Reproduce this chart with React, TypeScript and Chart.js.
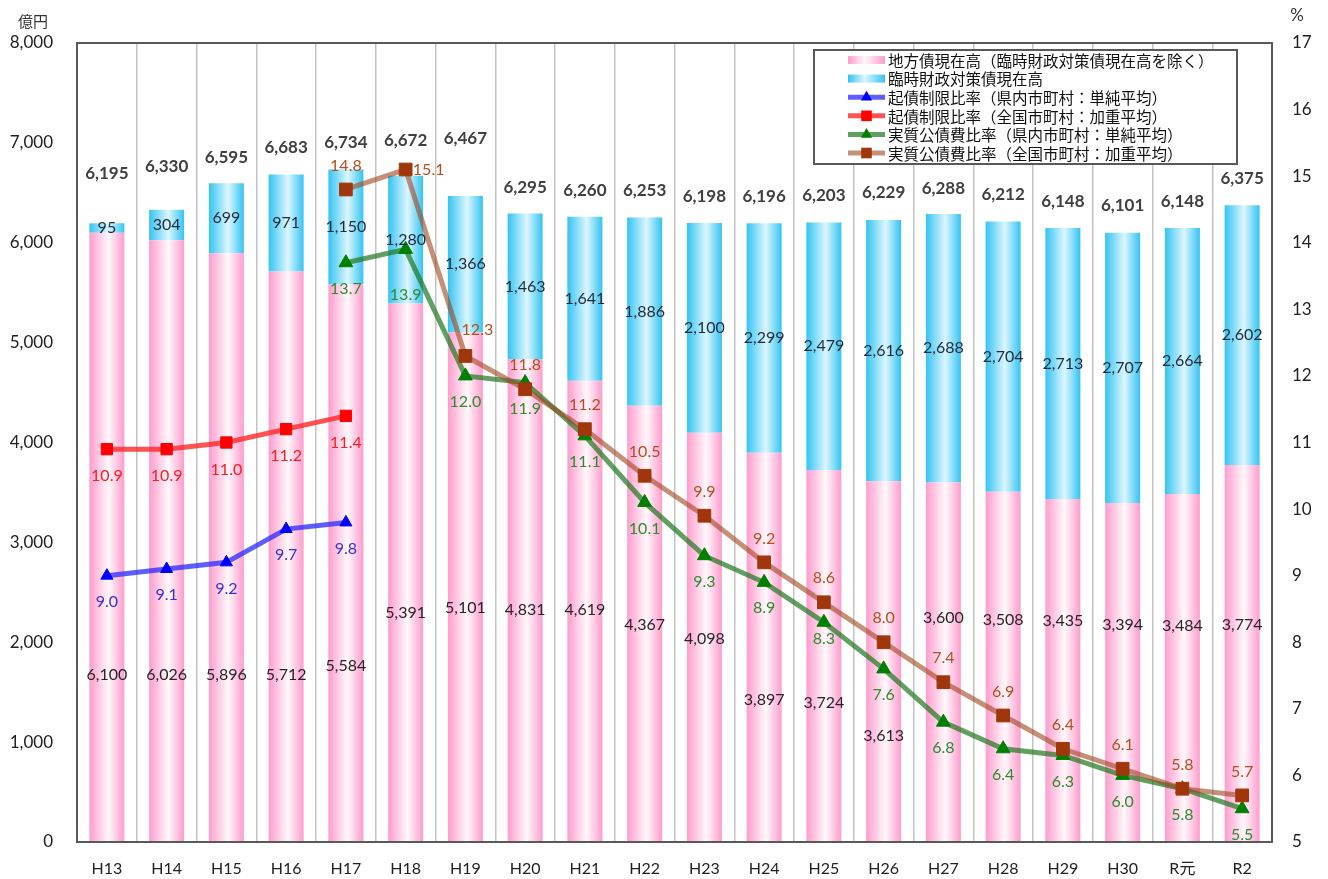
import React, { useEffect, useRef } from 'react';
import { Chart, registerables } from 'chart.js';

Chart.register(...registerables);

// ---------------- data ----------------
const categories = ['H13', 'H14', 'H15', 'H16', 'H17', 'H18', 'H19', 'H20', 'H21', 'H22', 'H23', 'H24', 'H25', 'H26', 'H27', 'H28', 'H29', 'H30', 'R元', 'R2'];

// 地方債現在高（臨時財政対策債現在高を除く） 億円
const localDebt = [6100, 6026, 5896, 5712, 5584, 5391, 5101, 4831, 4619, 4367, 4098, 3897, 3724, 3613, 3600, 3508, 3435, 3394, 3484, 3774];
// 臨時財政対策債現在高 億円
const tempDebt = [95, 304, 699, 971, 1150, 1280, 1366, 1463, 1641, 1886, 2100, 2299, 2479, 2616, 2688, 2704, 2713, 2707, 2664, 2602];
// 合計（ラベル）
const totals = [6195, 6330, 6595, 6683, 6734, 6672, 6467, 6295, 6260, 6253, 6198, 6196, 6203, 6229, 6288, 6212, 6148, 6101, 6148, 6375];

// 起債制限比率（県内市町村：単純平均） %
const limitPref = [9.0, 9.1, 9.2, 9.7, 9.8, null, null, null, null, null, null, null, null, null, null, null, null, null, null, null];
// 起債制限比率（全国市町村：加重平均） %
const limitNation = [10.9, 10.9, 11.0, 11.2, 11.4, null, null, null, null, null, null, null, null, null, null, null, null, null, null, null];
// 実質公債費比率（県内市町村：単純平均） %
const realPref = [null, null, null, null, 13.7, 13.9, 12.0, 11.9, 11.1, 10.1, 9.3, 8.9, 8.3, 7.6, 6.8, 6.4, 6.3, 6.0, 5.8, 5.5];
// 実質公債費比率（全国市町村：加重平均） %
const realNation = [null, null, null, null, 14.8, 15.1, 12.3, 11.8, 11.2, 10.5, 9.9, 9.2, 8.6, 8.0, 7.4, 6.9, 6.4, 6.1, 5.8, 5.7];

// axis ticks
const leftTicks = [0, 1000, 2000, 3000, 4000, 5000, 6000, 7000, 8000];
const rightTicks = [5, 6, 7, 8, 9, 10, 11, 12, 13, 14, 15, 16, 17];

// label anchors (in left-axis units) as placed in the original
const localLabelAt = [1672, 1672, 1672, 1672, 1762, 2293, 2343, 2323, 2323, 2173, 2033, 1422, 1392, 1061, 2243, 2223, 2213, 2173, 2163, 2173];
const totalLabelAt = [6698, 6768, 6858, 6949, 6999, 7019, 7039, 6558, 6518, 6518, 6458, 6458, 6468, 6498, 6548, 6478, 6408, 6368, 6408, 6641];

const legendLabels = [
  '地方債現在高（臨時財政対策債現在高を除く）',
  '臨時財政対策債現在高',
  '起債制限比率（県内市町村：単純平均）',
  '起債制限比率（全国市町村：加重平均）',
  '実質公債費比率（県内市町村：単純平均）',
  '実質公債費比率（全国市町村：加重平均）',
];

// ---------------- styles ----------------
const W = 1328;
const H = 879;
const PLOT = { left: 77, right: 1272, top: 43, bottom: 842 };
const BAR_PCT = 0.586;
const NUM_FONT = 'Lato, "Noto Sans CJK JP", sans-serif';
const JP_FONT = '"Noto Sans CJK JP", Lato, sans-serif';

const pinkStops: [number, string][] = [[0, '#ff9ccd'], [0.55, '#fff8fb'], [1, '#ff9ccd']];
const blueStops: [number, string][] = [[0, '#34c4f2'], [0.55, '#dcf6ff'], [1, '#34c4f2']];

const lineStyles = {
  limitPref: { line: 'rgba(40,40,255,0.75)', point: '#0000ff', shape: 'triangle', r: 7, text: '#3333cc' },
  limitNation: { line: 'rgba(255,40,40,0.8)', point: '#ff0000', shape: 'rect', r: 8, text: '#ee2222' },
  realPref: { line: 'rgba(30,120,30,0.7)', point: '#008000', shape: 'triangle', r: 8, text: '#2f8a2f' },
  realNation: { line: 'rgba(160,70,30,0.6)', point: '#a0360c', shape: 'rect', r: 9, text: '#b0501e' },
};

const fmt = (v: number) => v.toLocaleString('en-US');

function barGradient(c: any, stops: [number, string][]) {
  const chart = c.chart;
  const xs = chart.scales && chart.scales.x;
  if (!xs || c.dataIndex === undefined) return stops[0][1];
  const cx = xs.getPixelForValue(c.dataIndex);
  const w = (xs.width / categories.length) * BAR_PCT;
  if (!isFinite(cx) || !isFinite(w) || w <= 0) return stops[0][1];
  const g = chart.ctx.createLinearGradient(cx - w / 2, 0, cx + w / 2, 0);
  stops.forEach(([o, col]) => g.addColorStop(o, col));
  return g;
}

function drawMarker(ctx: CanvasRenderingContext2D, shape: string, x: number, y: number, r: number, color: string) {
  ctx.save();
  ctx.fillStyle = color;
  ctx.beginPath();
  if (shape === 'triangle') {
    ctx.moveTo(x, y - r);
    ctx.lineTo(x + r * Math.sin((2 * Math.PI) / 3), y - r * Math.cos((2 * Math.PI) / 3));
    ctx.lineTo(x + r * Math.sin((4 * Math.PI) / 3), y - r * Math.cos((4 * Math.PI) / 3));
    ctx.closePath();
  } else {
    const s = r * Math.SQRT1_2;
    ctx.rect(x - s, y - s, 2 * s, 2 * s);
  }
  ctx.fill();
  ctx.restore();
}

const overlayPlugin = {
  id: 'overlay',
  afterDatasetsDraw(chart: any) {
    const { ctx, chartArea, scales } = chart;
    const xs = scales.x;
    const ys = scales.y;
    const y1 = scales.y1;
    ctx.save();
    // plot box
    ctx.strokeStyle = '#595959';
    ctx.lineWidth = 2;
    ctx.strokeRect(chartArea.left, chartArea.top, chartArea.right - chartArea.left, chartArea.bottom - chartArea.top);

    ctx.textAlign = 'center';
    ctx.textBaseline = 'middle';
    categories.forEach((_, i) => {
      const px = xs.getPixelForValue(i);
      // pink label
      ctx.font = `16px ${NUM_FONT}`;
      ctx.fillStyle = '#262626';
      ctx.fillText(fmt(localDebt[i]), px, ys.getPixelForValue(localLabelAt[i]));
      // blue label (centred in segment)
      ctx.fillStyle = '#1f2a36';
      ctx.fillText(fmt(tempDebt[i]), px, ys.getPixelForValue(localDebt[i] + tempDebt[i] / 2));
      // total
      ctx.font = `bold 17px ${NUM_FONT}`;
      ctx.fillStyle = '#404040';
      ctx.fillText(fmt(totals[i]), px, ys.getPixelForValue(totalLabelAt[i]));
    });

    // line labels
    const series: [(number | null)[], any, number, Record<number, [number, number]>][] = [
      [limitPref, lineStyles.limitPref, 26, {}],
      [limitNation, lineStyles.limitNation, 27, {}],
      [realPref, lineStyles.realPref, 26, { 5: [0, 45], 12: [0, 17] }],
      [realNation, lineStyles.realNation, -24, { 5: [23, 0], 6: [12, -26] }],
    ];
    ctx.font = `16px ${NUM_FONT}`;
    series.forEach(([vals, st, dy, ex]) => {
      ctx.fillStyle = st.text;
      vals.forEach((v, i) => {
        if (v === null) return;
        const [ox, oy] = ex[i] || [0, dy];
        ctx.fillText(v.toFixed(1), xs.getPixelForValue(i) + ox, y1.getPixelForValue(v) + oy);
      });
    });
    ctx.restore();
  },
  afterDraw(chart: any) {
    const { ctx } = chart;
    ctx.save();
    // axis titles
    ctx.textAlign = 'center';
    ctx.textBaseline = 'middle';
    ctx.fillStyle = '#333333';
    ctx.font = `15px ${JP_FONT}`;
    ctx.fillText('億円', 33, 21);
    ctx.font = `17px ${NUM_FONT}`;
    ctx.fillText('%', 1297, 16);

    // legend
    const bx = 814, by = 50, bw = 423, bh = 114;
    ctx.fillStyle = '#ffffff';
    ctx.fillRect(bx, by, bw, bh);
    ctx.strokeStyle = '#595959';
    ctx.lineWidth = 2;
    ctx.strokeRect(bx, by, bw, bh);
    const sx0 = 848, sx1 = 885, tx = 888;
    ctx.textAlign = 'left';
    ctx.font = `15.5px ${JP_FONT}`;
    legendLabels.forEach((lab, i) => {
      const ry = 60 + i * 18.6;
      if (i < 2) {
        const stops = i === 0 ? pinkStops : blueStops;
        const g = ctx.createLinearGradient(sx0, 0, sx1, 0);
        g.addColorStop(0, stops[0][1]);
        g.addColorStop(0.45, stops[1][1]);
        g.addColorStop(1, stops[2][1]);
        ctx.fillStyle = g;
        ctx.fillRect(sx0, ry - 4, sx1 - sx0, 8);
      } else {
        const st = [lineStyles.limitPref, lineStyles.limitNation, lineStyles.realPref, lineStyles.realNation][i - 2];
        ctx.strokeStyle = st.line;
        ctx.lineWidth = 5;
        ctx.beginPath();
        ctx.moveTo(sx0, ry);
        ctx.lineTo(sx1, ry);
        ctx.stroke();
        drawMarker(ctx, st.shape, (sx0 + sx1) / 2, ry, st.shape === 'triangle' ? 6.5 : 7.5, st.point);
      }
      ctx.fillStyle = '#111111';
      ctx.fillText(lab, tx, ry + 1);
    });
    ctx.restore();
  },
};

function lineDataset(label: string, data: (number | null)[], st: any, order: number) {
  return {
    type: 'line' as const,
    label,
    data,
    yAxisID: 'y1',
    order,
    borderColor: st.line,
    backgroundColor: st.point,
    borderWidth: 5,
    pointStyle: st.shape,
    pointRadius: st.r,
    pointBackgroundColor: st.point,
    pointBorderColor: st.point,
    pointBorderWidth: 1,
    tension: 0,
    fill: false,
  };
}

export default function App() {
  const ref = useRef<HTMLCanvasElement | null>(null);
  useEffect(() => {
    if (!ref.current) return;
    const chart = new Chart(ref.current, {
      type: 'bar',
      data: {
        labels: categories,
        datasets: [
          lineDataset(legendLabels[5], realNation, lineStyles.realNation, 0),
          lineDataset(legendLabels[4], realPref, lineStyles.realPref, 1),
          lineDataset(legendLabels[3], limitNation, lineStyles.limitNation, 2),
          lineDataset(legendLabels[2], limitPref, lineStyles.limitPref, 3),
          {
            type: 'bar' as const,
            label: legendLabels[0],
            data: localDebt,
            yAxisID: 'y',
            stack: 'debt',
            order: 10,
            backgroundColor: (c: any) => barGradient(c, pinkStops),
            borderWidth: 0,
            barPercentage: BAR_PCT,
            categoryPercentage: 1,
          },
          {
            type: 'bar' as const,
            label: legendLabels[1],
            data: tempDebt,
            yAxisID: 'y',
            stack: 'debt',
            order: 10,
            backgroundColor: (c: any) => barGradient(c, blueStops),
            borderWidth: 0,
            barPercentage: BAR_PCT,
            categoryPercentage: 1,
          },
        ] as any,
      },
      options: {
        responsive: false,
        animation: false,
        devicePixelRatio: 1,
        layout: { padding: { top: PLOT.top, left: 0, right: 0, bottom: 0 } },
        plugins: {
          legend: { display: false },
          tooltip: { enabled: false },
          title: { display: false },
        },
        scales: {
          x: {
            stacked: true,
            afterFit: (s: any) => { s.height = H - PLOT.bottom; },
            grid: { color: '#c3c3c3', lineWidth: 1.5, drawTicks: false, offset: true },
            border: { display: false },
            ticks: {
              font: { family: NUM_FONT, size: 16 },
              color: '#222222',
              padding: 17,
              maxRotation: 0,
            },
          },
          y: {
            position: 'left',
            stacked: true,
            min: leftTicks[0],
            max: leftTicks[leftTicks.length - 1],
            afterFit: (s: any) => { s.width = PLOT.left; },
            afterBuildTicks: (s: any) => { s.ticks = leftTicks.map((v) => ({ value: v })); },
            grid: { display: false, drawTicks: false },
            border: { display: false },
            ticks: {
              font: { family: NUM_FONT, size: 17 },
              color: '#222222',
              padding: 24,
              callback: (v: any) => fmt(Number(v)),
            },
          },
          y1: {
            position: 'right',
            min: rightTicks[0],
            max: rightTicks[rightTicks.length - 1],
            afterFit: (s: any) => { s.width = W - PLOT.right; },
            afterBuildTicks: (s: any) => { s.ticks = rightTicks.map((v) => ({ value: v })); },
            grid: { display: false, drawTicks: false },
            border: { display: false },
            ticks: {
              font: { family: NUM_FONT, size: 17 },
              color: '#222222',
              padding: 20,
              callback: (v: any) => String(v),
            },
          },
        },
      } as any,
      plugins: [overlayPlugin],
    });
    return () => chart.destroy();
  }, []);

  return (
    <div style={{ position: 'absolute', left: 0, top: 0, width: W, height: H, background: '#ffffff' }}>
      <canvas ref={ref} width={W} height={H} style={{ display: 'block', width: W, height: H }} />
    </div>
  );
}
